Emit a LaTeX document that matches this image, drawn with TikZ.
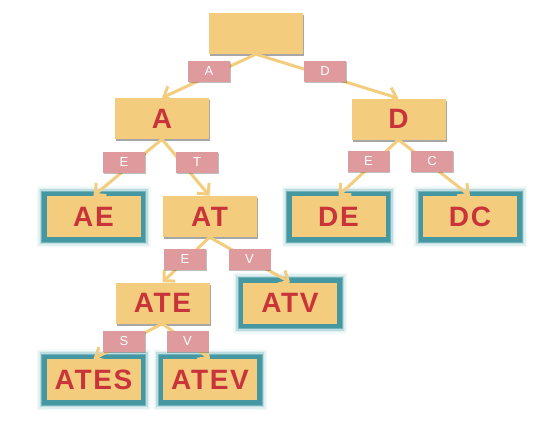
\documentclass[tikz,border=0pt]{standalone}
\usepackage{fontspec}
\setmainfont{Liberation Sans}
\newfontfamily\boxfont[LetterSpace=6]{Liberation Sans}
\usetikzlibrary{arrows.meta,shadows}
\definecolor{boxfill}{HTML}{F3CD7D}
\definecolor{boxtext}{HTML}{C9343A}
\definecolor{lblfill}{HTML}{DE9A9C}
\definecolor{edgecol}{HTML}{F3CD7D}
\definecolor{glowdark}{HTML}{4597A1}
\definecolor{glowlight}{HTML}{6FB3BB}
\tikzset{
  box/.style={fill=boxfill, minimum width=94pt, minimum height=41pt, inner sep=0pt,
    text=boxtext, font=\boxfont\bfseries\fontsize{28}{28}\selectfont,
    drop shadow={shadow xshift=1pt, shadow yshift=-2pt, fill=black, opacity=0.35}},
  leaf/.style={fill=boxfill, minimum width=94pt, minimum height=41pt, inner sep=0pt,
    text=boxtext, font=\boxfont\bfseries\fontsize{28}{28}\selectfont,
    preaction={draw=glowlight, line width=20pt, opacity=0.08, rounded corners=9pt},
    preaction={draw=glowlight, line width=17pt, opacity=0.15, rounded corners=8pt},
    preaction={draw=glowlight, line width=14pt, opacity=0.3, rounded corners=6pt},
    preaction={draw=glowdark, line width=11pt, opacity=0.6, rounded corners=5pt},
    preaction={draw=glowdark, line width=9pt, rounded corners=3pt}},
  lbl/.style={fill=lblfill, minimum width=42pt, minimum height=21pt, inner sep=0pt,
    text=white, font=\fontsize{13}{13}\selectfont,
    drop shadow={shadow xshift=0.8pt, shadow yshift=-1pt, fill=black, opacity=0.25}},
  conn/.style={draw=edgecol, line width=3pt, -{Straight Barb[length=8pt,width=16pt,line width=3pt]}}
}
\begin{document}
\begin{tikzpicture}[x=1pt,y=-1pt]
\useasboundingbox (0,0) rectangle (538,421);
% nodes
\node[box] (root) at (256,33.5) {};
\node[box] (A) at (162,118.5) {A};
\node[box] (D) at (398.5,119) {D};
\node[leaf] (AE) at (93.5,216.5) {AE};
\node[box] (AT) at (209.5,216.5) {AT};
\node[leaf] (DE) at (338.5,216.5) {DE};
\node[leaf] (DC) at (470,216.5) {DC};
\node[box] (ATE) at (162.5,303) {ATE};
\node[leaf] (ATV) at (290,303) {ATV};
\node[leaf] (ATES) at (93.5,379.5) {ATES};
\node[leaf] (ATEV) at (210,379.5) {ATEV};
% connectors
\draw[conn] (root.south) -- (A.north);
\draw[conn] (root.south) -- (D.north);
\draw[conn] (A.south) -- (AE.north);
\draw[conn] (A.south) -- (AT.north);
\draw[conn] (D.south) -- (DE.north);
\draw[conn] (D.south) -- (DC.north);
\draw[conn] (AT.south) -- (ATE.north);
\draw[conn] (AT.south) -- (ATV.north);
\draw[conn] (ATE.south) -- (ATES.north);
\draw[conn] (ATE.south) -- (ATEV.north);
% labels
\node[lbl] (lA) at (209,71.5) {A};
\node[lbl] (lD) at (325,71.5) {D};
\node[lbl] (lAE) at (124,162) {E};
\node[lbl] (lAT) at (197,162) {T};
\node[lbl] (lDE) at (368.5,161.5) {E};
\node[lbl] (lDC) at (432,161.5) {C};
\node[lbl] (lATE) at (185,259.5) {E};
\node[lbl] (lATV) at (249.5,259.5) {V};
\node[lbl] (lATES) at (124,341.5) {S};
\node[lbl] (lATEV) at (187.5,341.5) {V};
\end{tikzpicture}
\end{document}
